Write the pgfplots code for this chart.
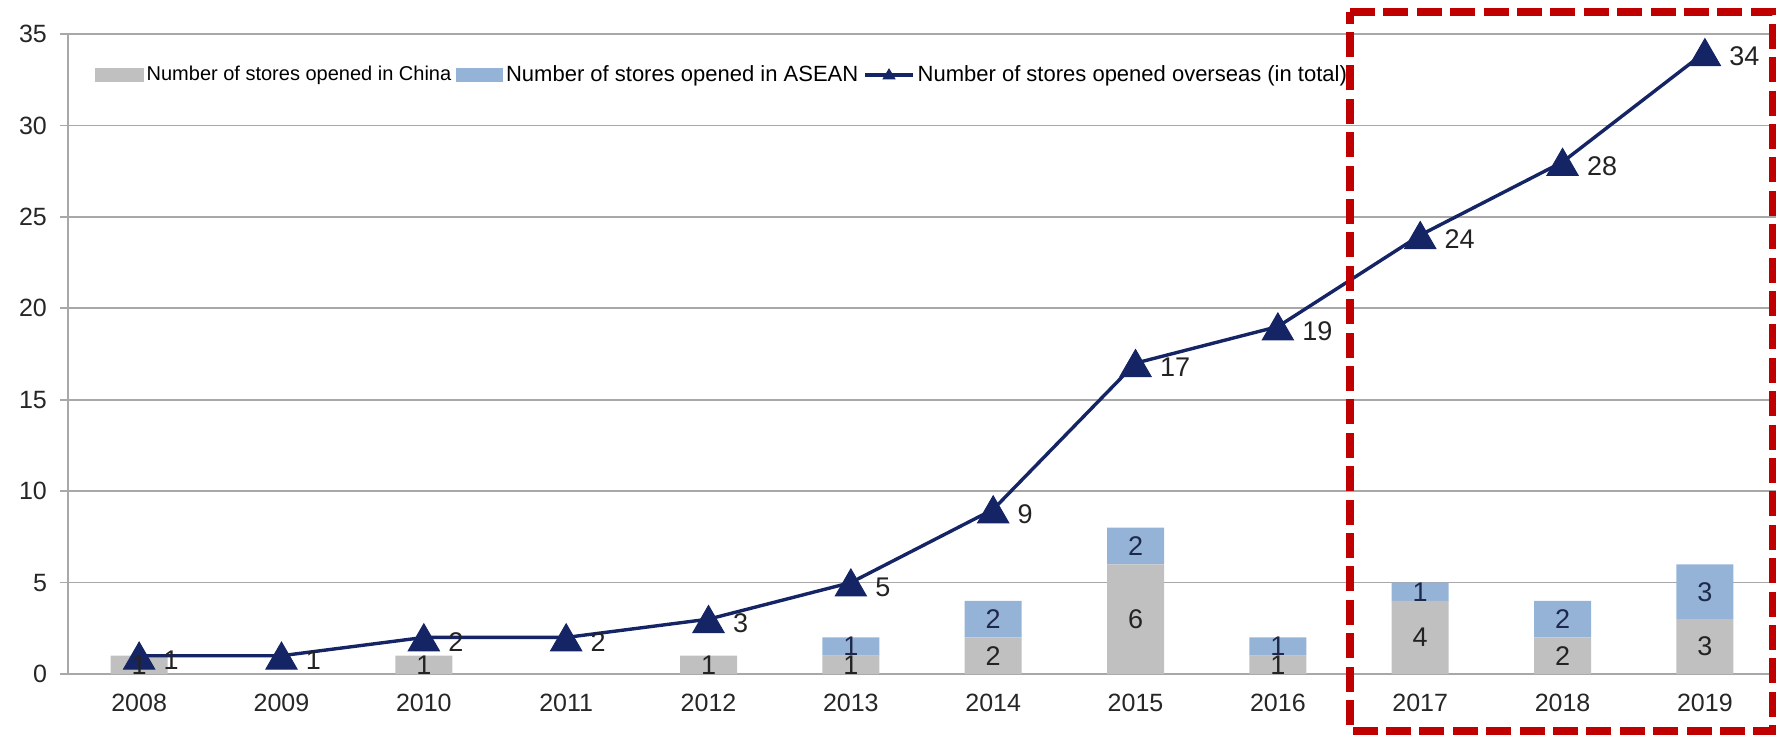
\documentclass[border=0pt]{standalone}
\usepackage{pgfplots}
\pgfplotsset{compat=1.18}
\usepackage{fontspec}
\setmainfont{Liberation Sans}
\definecolor{cgray}{RGB}{192,192,192}
\definecolor{cblue}{RGB}{149,179,215}
\definecolor{navy}{RGB}{20,36,100}
\definecolor{gridc}{RGB}{168,168,168}
\definecolor{boxred}{RGB}{192,0,0}
\definecolor{lblc}{RGB}{35,35,35}
\definecolor{lblb}{RGB}{30,40,75}

\pgfplotsset{
  base/.style={
    scale only axis, width=854pt, height=320pt,
    xmin=-0.5, xmax=11.5, ymin=0, ymax=35,
    clip=false,
    /pgf/number format/assume math mode=true,
  }
}

\pgfplotstableread{
x c a
0 1 0
1 0 0
2 1 0
3 0 0
4 1 0
5 1 1
6 2 2
7 6 2
8 1 1
9 4 1
10 2 2
11 3 3
}\bars

\pgfplotstableread{
x y
0 1
1 1
2 2
3 2
4 3
5 5
6 9
7 17
8 19
9 24
10 28
11 34
}\total

\pgfplotstableread{
x y l
0 0.5 1
2 0.5 1
4 0.5 1
5 0.5 1
6 1 2
7 3 6
8 0.5 1
9 2 4
10 1 2
11 1.5 3
}\clabels

\pgfplotstableread{
x y l
5 1.5 1
6 3 2
7 7 2
8 1.5 1
9 4.5 1
10 3 2
11 4.5 3
}\alabels

\begin{document}
\begin{tikzpicture}
\begin{axis}[base,
  ybar stacked, bar width=28.5pt,
  axis x line*=bottom, axis y line*=left,
  axis line style={gridc, line width=0.9pt, -},
  ytick={0,5,...,35},
  ymajorgrids, grid style={gridc, line width=0.9pt},
  xtick={0,...,11},
  xticklabels={2008,2009,2010,2011,2012,2013,2014,2015,2016,2017,2018,2019},
  x tick style={draw=none},
  extra x ticks={0.5,1.5,...,10.5},
  extra x tick labels={},
  extra x tick style={tick style={draw=gridc, line width=0.9pt}, major tick length=3pt},
  tick align=outside,
  y tick style={draw=gridc, line width=0.9pt},
  major tick length=4pt,
  ticklabel style={font=\fontsize{12.5}{15}\selectfont, text=black!85},
  yticklabel style={xshift=-3pt},
  xticklabel style={yshift=-2.5pt},
]
\addplot[fill=cgray, draw=none] table[x=x, y=c] {\bars};
\addplot[fill=cblue, draw=none] table[x=x, y=a] {\bars};
\end{axis}

\begin{axis}[base, hide axis,
  legend style={at={(0.012,0.936)}, anchor=west, draw=none, fill=none,
    legend columns=3, font=\fontsize{11}{13}\selectfont,
    /tikz/every even column/.append style={column sep=1pt},
    nodes={inner sep=1.5pt}},
]
\path (rel axis cs:-0.0398,-0.09375) rectangle (rel axis cs:1.0023,1.0531);
\addlegendimage{legend image code/.code={\fill[cgray] (0pt,-3.25pt) rectangle (24pt,3.25pt);}}
\addlegendentry{\fontsize{10}{12}\selectfont Number of stores opened in China}
\addlegendimage{legend image code/.code={\fill[cblue] (0pt,-3.25pt) rectangle (23pt,3.25pt);}}
\addlegendentry{Number of stores opened in ASEAN}
\addlegendimage{legend image code/.code={\draw[navy, line width=1.7pt] (0pt,0pt) -- (24pt,0pt); \fill[navy] (9pt,-2pt) -- (15pt,-2pt) -- (12pt,3pt) -- cycle;}}
\addlegendentry{Number of stores opened overseas (in total)}

\addplot[navy, line width=1.7pt, mark=triangle*, mark size=9pt,
  mark options={fill=navy, draw=navy, line width=0.5pt, yshift=-2.2pt},
  nodes near coords, point meta=y,
  nodes near coords style={anchor=west, xshift=11pt, inner sep=1pt,
    font=\fontsize{13.5}{16}\selectfont, text=lblc}] table[x=x, y=y] {\total};

\addplot[only marks, mark=none, nodes near coords, point meta=explicit symbolic,
  nodes near coords style={anchor=center, inner sep=0pt,
    font=\fontsize{13.5}{16}\selectfont, text=lblc}] table[x=x, y=y, meta=l] {\clabels};
\addplot[only marks, mark=none, nodes near coords, point meta=explicit symbolic,
  nodes near coords style={anchor=center, inner sep=0pt,
    font=\fontsize{13.5}{16}\selectfont, text=lblb}] table[x=x, y=y, meta=l] {\alabels};

\draw[boxred, line width=3.8pt, dash pattern=on 12.5pt off 4.2pt]
  (rel axis cs:0.7506,1.034) -- (rel axis cs:0.998,1.034) -- (rel axis cs:0.998,-0.089)
  -- (rel axis cs:0.7506,-0.089) -- cycle;
\end{axis}
\end{tikzpicture}
\end{document}
